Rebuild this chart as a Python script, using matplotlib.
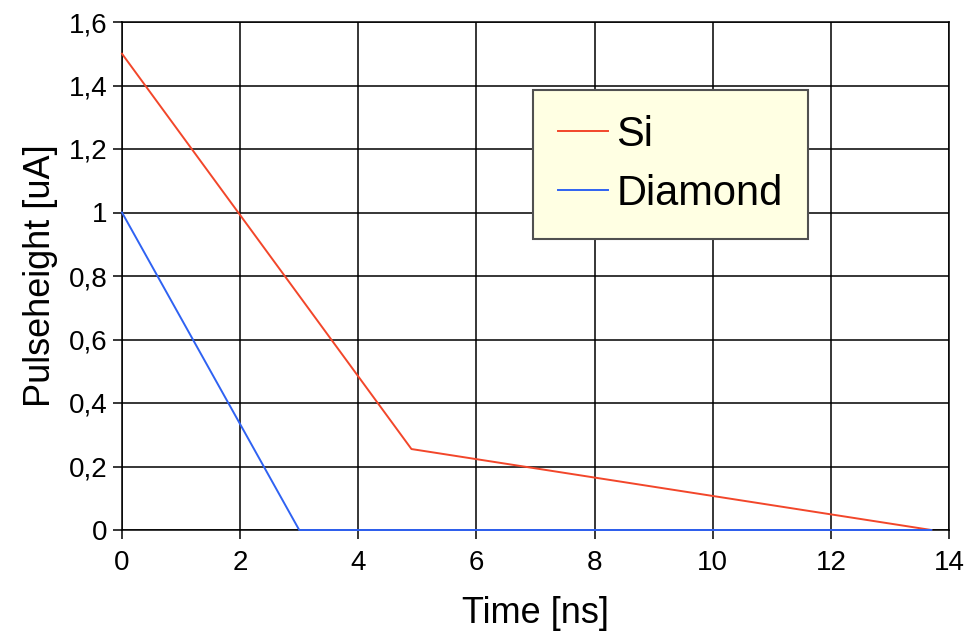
import matplotlib
matplotlib.use("Agg")
import matplotlib.pyplot as plt

# Pulse shapes: current vs. time for both sensor materials
si_time = [0.0, 4.9, 13.7]
si_current = [1.5, 0.255, 0.0]
diamond_time = [0.0, 3.0, 13.7]
diamond_current = [1.0, 0.0, 0.0]

x_ticks = [0, 2, 4, 6, 8, 10, 12, 14]
y_ticks = [0, 0.2, 0.4, 0.6, 0.8, 1.0, 1.2, 1.4, 1.6]
y_tick_labels = ["0", "0,2", "0,4", "0,6", "0,8", "1", "1,2", "1,4", "1,6"]

plt.rcParams["font.family"] = ["Liberation Sans", "DejaVu Sans"]

fig = plt.figure(figsize=(9.75, 6.34), dpi=100)
ax = fig.add_axes([122 / 975, 1 - 530 / 634, 827 / 975, 508 / 634])

# lines sit on top of the frame so the flat tail at 0 stays visible
ax.plot(si_time, si_current, color="#f2462a", linewidth=1.4, label="Si",
        zorder=4, clip_on=False)
ax.plot(diamond_time, diamond_current, color="#2f62f2", linewidth=1.4,
        label="Diamond", zorder=4, clip_on=False)

ax.set_xlim(0, 14)
ax.set_ylim(0, 1.6)
ax.set_xticks(x_ticks)
ax.set_yticks(y_ticks)
ax.set_yticklabels(y_tick_labels)
ax.tick_params(axis="both", direction="out", length=6.5, width=1.1, labelsize=20, color="black")
ax.tick_params(axis="y", pad=4)
ax.tick_params(axis="x", pad=8)

ax.grid(True, color="black", linewidth=1.1)
ax.set_axisbelow(True)
for sp in ax.spines.values():
    sp.set_color("black")
    sp.set_linewidth(1.1)

ax.set_xlabel("Time [ns]", fontsize=26, labelpad=14)
ax.set_ylabel("Pulseheight [uA]", fontsize=26, labelpad=8)

leg = ax.legend(loc="upper left", bbox_to_anchor=(0.497, 0.866), fontsize=30,
                frameon=True, fancybox=False, framealpha=1, facecolor="#ffffe3",
                edgecolor="#505050", handlelength=1.2, handletextpad=0.2,
                labelspacing=0.45, borderpad=0.6, borderaxespad=0)
leg.get_frame().set_linewidth(1.5)

fig.savefig("out.png", dpi=100)
